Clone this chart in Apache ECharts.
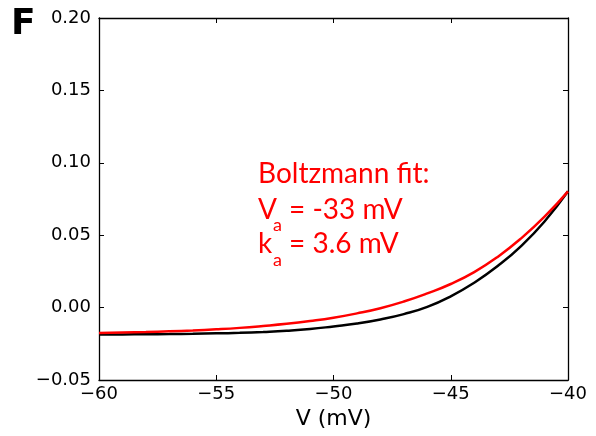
<!DOCTYPE html>
<html>
<head>
<meta charset="utf-8">
<script src="https://cdn.jsdelivr.net/npm/echarts@6/dist/echarts.min.js"></script>
<style>
  html, body { margin: 0; padding: 0; background: #fff; }
  #chart { width: 596px; height: 436px; }
</style>
</head>
<body>
<div id="chart"></div>
<script>
    // membrane voltage (mV)
    const voltage = [-60, -59, -58, -57, -56, -55, -54, -53, -52, -51, -50,
                     -49, -48, -47, -46, -45, -44, -43, -42, -41, -40];

    // measured curve (black)
    const measured = [-0.0185, -0.0185, -0.0184, -0.0183, -0.0181, -0.0178, -0.0174, -0.0168, -0.0160, -0.0148, -0.0130,
                      -0.0110, -0.0082, -0.0045, 0.0005, 0.0078, 0.0172, 0.0287, 0.0425, 0.0595, 0.0803];

    // Boltzmann fit (red)
    const boltzFit = [-0.0175, -0.0172, -0.0169, -0.0164, -0.0158, -0.0150, -0.0140, -0.0127, -0.0112, -0.0093, -0.0070,
                      -0.0040, -0.0004, 0.0042, 0.0098, 0.0163, 0.0245, 0.0350, 0.0478, 0.0628, 0.0803];

    const minus = (s) => s.replace('-', '\u2212');

    let chart = echarts.init(document.getElementById('chart'), null, {renderer: 'canvas'});

    const tickFont = 'DejaVu Sans';
    const axisLine = {show: true, onZero: false, lineStyle: {color: '#000', width: 1.3}};
    const tickIn = {show: true, inside: true, length: 5, lineStyle: {color: '#000', width: 1}};

    let option = {
        animation: false,
        backgroundColor: '#fff',
        grid: {left: 99, right: 28, top: 18, bottom: 56},
        xAxis: [
            {
                type: 'value',
                position: 'bottom',
                min: -60,
                max: -40,
                interval: 5,
                axisLine: axisLine,
                axisTick: tickIn,
                splitLine: {show: false},
                axisLabel: {
                    color: '#000', fontFamily: tickFont, fontSize: 18, margin: 5,
                    formatter: (v) => minus(String(v))
                },
                name: 'V (mV)',
                nameLocation: 'middle',
                nameGap: 28,
                nameTextStyle: {color: '#000', fontFamily: tickFont, fontSize: 22}
            },
            {
                type: 'value',
                position: 'top',
                min: -60,
                max: -40,
                interval: 5,
                axisLine: axisLine,
                axisTick: tickIn,
                axisLabel: {show: false},
                splitLine: {show: false}
            }
        ],
        yAxis: [
            {
                type: 'value',
                position: 'left',
                min: -0.05,
                max: 0.20,
                interval: 0.05,
                axisLine: axisLine,
                axisTick: tickIn,
                splitLine: {show: false},
                axisLabel: {
                    color: '#000', fontFamily: tickFont, fontSize: 18, margin: 8,
                    formatter: (v) => minus(v.toFixed(2))
                }
            },
            {
                type: 'value',
                position: 'right',
                min: -0.05,
                max: 0.20,
                interval: 0.05,
                axisLine: axisLine,
                axisTick: tickIn,
                axisLabel: {show: false},
                splitLine: {show: false}
            }
        ],
        series: [
            {
                name: 'measured',
                type: 'line',
                smooth: true,
                showSymbol: false,
                data: voltage.map((v, i) => [v, measured[i]]),
                lineStyle: {color: '#000', width: 2.5},
                z: 2
            },
            {
                name: 'fit',
                type: 'line',
                smooth: true,
                showSymbol: false,
                data: voltage.map((v, i) => [v, boltzFit[i]]),
                lineStyle: {color: '#ff0000', width: 2.5},
                z: 3
            }
        ],
        graphic: [
            {
                type: 'text', left: 11, top: 7,
                style: {text: 'F', fill: '#000', font: 'bold 36px "DejaVu Sans"'}
            },
            {
                type: 'text', left: 258, top: 160,
                style: {text: 'Boltzmann fit:', fill: '#ff0000', font: '28px Lato'}
            },
            {
                type: 'text', left: 258, top: 196,
                style: {text: 'V', fill: '#ff0000', font: '28px Lato'}
            },
            {
                type: 'text', left: 273, top: 216,
                style: {text: 'a', fill: '#ff0000', font: '18px Lato'}
            },
            {
                type: 'text', left: 289, top: 196,
                style: {text: '= -33 mV', fill: '#ff0000', font: '28px Lato'}
            },
            {
                type: 'text', left: 258, top: 230,
                style: {text: 'k', fill: '#ff0000', font: '28px Lato'}
            },
            {
                type: 'text', left: 273, top: 251,
                style: {text: 'a', fill: '#ff0000', font: '18px Lato'}
            },
            {
                type: 'text', left: 289, top: 230,
                style: {text: '= 3.6 mV', fill: '#ff0000', font: '28px Lato'}
            }
        ]
    };

    chart.setOption(option);
</script>
</body>
</html>
